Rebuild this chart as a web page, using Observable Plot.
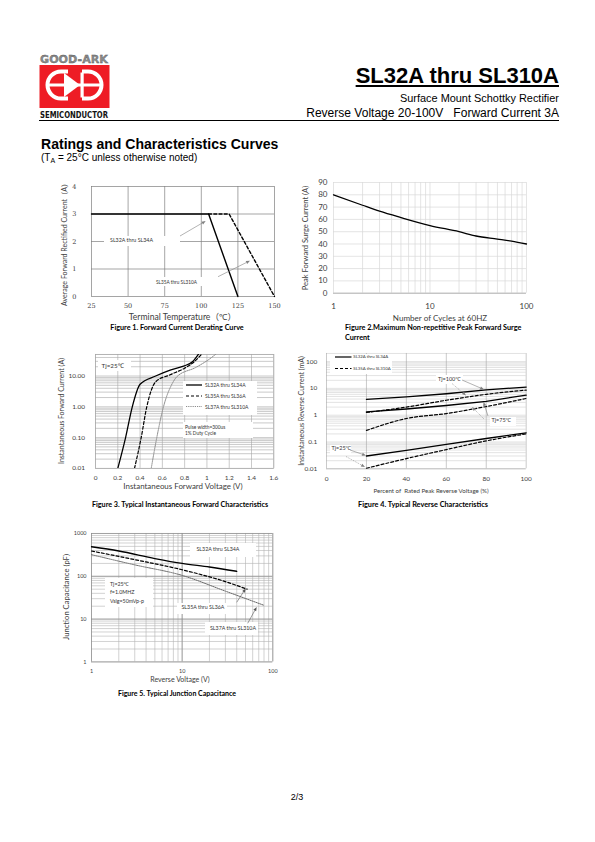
<!DOCTYPE html>
<html><head><meta charset="utf-8">
<script src="https://cdn.jsdelivr.net/npm/d3@7"></script>
<script src="https://cdn.jsdelivr.net/npm/@observablehq/plot@0.6"></script>
<style>
html,body{margin:0;padding:0;background:#fff;}
#page{position:relative;width:595px;height:842px;overflow:hidden;background:#fff;}
.t{position:absolute;white-space:pre;line-height:1;}
.b{position:absolute;background:#fff;}
</style></head><body><div id="page"></div>
<script>
// ---------------- data ----------------
// Figure 1: Forward current derating
const f1TempA = [25, 105, 125];
const f1CurA  = [3, 3, 0];
const f1TempB = [105, 119, 150];
const f1CurB  = [3, 3, 0];
const f1XTicks = [25, 50, 75, 100, 125, 150];
const f1YTicks = [0, 1, 2, 3, 4];

// Figure 2: Peak forward surge current
const f2Cycles = [1, 2, 3, 5, 10, 20, 30, 50, 70, 100];
const f2Surge  = [80, 71.5, 66.7, 61.5, 55, 50, 46.5, 44, 42.3, 40];
const f2XTicks = [1, 10, 100];
const f2YTicks = [0, 10, 20, 30, 40, 50, 60, 70, 80, 90];

// Figure 3: Instantaneous forward characteristics
const f3VoltA = [0.2, 0.27, 0.33, 0.40, 0.54, 0.67, 0.79, 0.87, 0.93];
const f3CurA  = [0.01, 0.1, 1, 5.4, 10, 15.6, 21, 29, 55];
const f3VoltB = [0.35, 0.41, 0.46, 0.54, 0.67, 0.80, 0.89, 0.96];
const f3CurB  = [0.01, 0.1, 1, 6.5, 11, 18, 30, 55];
const f3VoltC = [0.50, 0.55, 0.61, 0.69, 0.73, 0.90, 1.02, 1.09];
const f3CurC  = [0.01, 0.1, 1, 5.8, 9.5, 19, 35, 55];
const f3XTicks = [0, 0.2, 0.4, 0.6, 0.8, 1, 1.2, 1.4, 1.6];
const f3YTicks = [0.01, 0.1, 1, 10];

// Figure 4: Reverse characteristics
const f4Pct = [20, 40, 60, 80, 100];
const f4A100 = [3.9, 4.8, 6.3, 8.8, 11.2];
const f4B100 = [1.26, 2.0, 3.6, 6.0, 8.6];
const f4A75  = [1.33, 1.7, 2.3, 3.3, 5.6];
const f4B75  = [0.27, 0.75, 1.15, 2.1, 4.2];
const f4A25  = [0.030, 0.049, 0.082, 0.135, 0.22];
const f4B25  = [0.0105, 0.024, 0.052, 0.11, 0.20];
const f4XTicks = [0, 20, 40, 60, 80, 100];
const f4YTicks = [0.01, 0.1, 1, 10, 100];

// Figure 5: Junction capacitance
const f5VoltA = [1, 2, 5, 10, 20, 40];
const f5CapA  = [490, 390, 260, 200, 165, 131];
const f5VoltB = [1, 3, 10, 30, 52];
const f5CapB  = [390, 245, 142, 75, 50];
const f5VoltC = [1, 3, 10, 30, 80];
const f5CapC  = [320, 185, 105, 45, 21];
const f5XTicks = [1, 10, 100];
const f5YTicks = [1, 10, 100, 1000];

// ---------------- helpers ----------------
const page = document.getElementById("page");
const FONT = "Lato, 'Noto Sans', 'Noto Sans CJK SC', sans-serif";
const ARIAL = "'Liberation Sans', Arial, sans-serif";

function logGrid(e0, e1, max) {
  const out = [];
  for (let e = e0; e <= e1; e++) for (let k = 1; k <= 9; k++) {
    const v = +(k * Math.pow(10, e)).toPrecision(6);
    if (v <= max) out.push(v);
  }
  return out;
}

function makePlot(fr, fs, opts) {
  const ml = 45, mr = 12, mt = 8, mb = 22;
  const w = fr.x1 - fr.x0 + ml + mr, h = fr.y1 - fr.y0 + mt + mb;
  const svg = Plot.plot({
    width: w, height: h, marginLeft: ml, marginRight: mr, marginTop: mt, marginBottom: mb,
    style: {background: "transparent", fontFamily: FONT, fontSize: fs + "px", color: "#404040", overflow: "visible"},
    ...opts
  });
  Object.assign(svg.style, {position: "absolute", left: (fr.x0 - ml) + "px", top: (fr.y0 - mt) + "px", maxWidth: "none"});
  page.appendChild(svg);
}

function T(s, x, y, o = {}) {
  const d = document.createElement("div");
  d.className = "t";
  if (o.html) d.innerHTML = s; else d.textContent = s;
  d.style.left = x + "px"; d.style.top = y + "px";
  d.style.fontSize = (o.size || 7) + "px";
  d.style.fontFamily = o.font || FONT;
  d.style.fontWeight = o.bold ? "bold" : "normal";
  d.style.color = o.color || "#000";
  if (o.deco) d.style.cssText += o.deco;
  const ax = o.anchor === "middle" || o.rotate ? "-50%" : o.anchor === "end" ? "-100%" : "0";
  d.style.transform = `translate(${ax},-50%)` + (o.rotate ? " rotate(-90deg)" : "");
  page.appendChild(d);
  if (o.width) {
    const cur = d.offsetWidth;
    if (cur > 0) d.style.fontSize = ((o.size || 7) * o.width / cur) + "px";
  }
  return d;
}
function B(x, y, w, h) {
  const d = document.createElement("div");
  d.className = "b";
  Object.assign(d.style, {left: x + "px", top: y + "px", width: w + "px", height: h + "px"});
  page.appendChild(d);
}

// ---------------- Figure 1 ----------------
const F1 = {x0: 91, x1: 274, y0: 186, y1: 296};
makePlot(F1, 6.5, {
  x: {domain: [25, 150]}, y: {domain: [0, 4]},
  marks: [
    Plot.ruleX(f1XTicks.slice(1, -1), {stroke: "#7f7f7f", strokeWidth: 0.7}),
    Plot.ruleY(f1YTicks.slice(1, -1), {stroke: "#7f7f7f", strokeWidth: 0.7}),
    Plot.frame({stroke: "#7f7f7f", strokeWidth: 0.7}),
    Plot.line(f1TempA, {x: f1TempA, y: f1CurA, stroke: "#000", strokeWidth: 1.4}),
    Plot.line(f1TempB, {x: f1TempB, y: f1CurB, stroke: "#000", strokeWidth: 1.4, strokeDasharray: "3,2.2"}),
    Plot.axisX({ticks: f1XTicks, tickSize: 0, tickPadding: 6.5, fontSize: 6.5, fontFamily: "'DejaVu Serif', serif", label: null, tickFormat: d => String(d)}),
    Plot.axisY({ticks: f1YTicks, tickSize: 0, tickPadding: 15, fontSize: 6.5, fontFamily: "'DejaVu Serif', serif", label: null, tickFormat: d => String(d)})
  ]
});

// ---------------- Figure 2 ----------------
const F2 = {x0: 333, x1: 526, y0: 182.3, y1: 293};
makePlot(F2, 8, {
  x: {type: "log", domain: [1, 100]}, y: {domain: [0, 90]},
  marks: [
    Plot.ruleX(logGrid(0, 2, 100), {stroke: "#d9d9d9", strokeWidth: 0.7}),
    Plot.ruleY(f2YTicks, {stroke: "#d9d9d9", strokeWidth: 0.7}),
    Plot.ruleY([0], {stroke: "#a6a6a6", strokeWidth: 0.8}),
    Plot.line(f2Cycles, {x: f2Cycles, y: f2Surge, curve: "monotone-x", stroke: "#000", strokeWidth: 1.3}),
    Plot.axisX({ticks: f2XTicks, tickSize: 0, tickPadding: 10, fontSize: 8, label: null, tickFormat: d => String(d)}),
    Plot.axisY({ticks: f2YTicks, tickSize: 0, tickPadding: 6, fontSize: 8, label: null, tickFormat: d => String(d)})
  ]
});

// ---------------- Figure 3 ----------------
const F3 = {x0: 95, x1: 273.3, y0: 354.4, y1: 468.3};
makePlot(F3, 6.5, {
  x: {domain: [0, 1.6]}, y: {type: "log", domain: [0.01, 50]},
  marks: [
    Plot.ruleY(logGrid(-2, 1, 50), {stroke: "#a6a6a6", strokeWidth: 0.6}),
    Plot.ruleX(f3XTicks, {stroke: "#a6a6a6", strokeWidth: 0.6}),
    Plot.frame({stroke: "#a6a6a6", strokeWidth: 0.6}),
    Plot.line(f3VoltC, {x: f3VoltC, y: f3CurC, curve: "monotone-x", stroke: "#8c8c8c", strokeWidth: 1, strokeDasharray: "1.2,1", clip: true}),
    Plot.line(f3VoltB, {x: f3VoltB, y: f3CurB, curve: "monotone-x", stroke: "#000", strokeWidth: 1.2, strokeDasharray: "3,2", clip: true}),
    Plot.line(f3VoltA, {x: f3VoltA, y: f3CurA, curve: "monotone-x", stroke: "#000", strokeWidth: 1.3, clip: true}),
    Plot.axisX({ticks: f3XTicks, tickSize: 0, tickPadding: 7, fontSize: 6.5, label: null, tickFormat: d => String(d)}),
    Plot.axisY({ticks: f3YTicks, tickSize: 0, tickPadding: 10.5, fontSize: 6.5, label: null, tickFormat: d3.format(".2f")})
  ]
});

// ---------------- Figure 4 ----------------
const F4 = {x0: 326, x1: 525.7, y0: 353, y1: 468.3};
makePlot(F4, 6.5, {
  x: {domain: [0, 100]}, y: {type: "log", domain: [0.01, 200]},
  marks: [
    Plot.ruleY(logGrid(-2, 2, 200), {stroke: "#d0d0d0", strokeWidth: 0.6}),
    Plot.ruleX(f4XTicks, {stroke: "#a6a6a6", strokeWidth: 0.6}),
    Plot.ruleY([0.01], {stroke: "#a6a6a6", strokeWidth: 0.6}),
    Plot.line(f4Pct, {x: f4Pct, y: f4A100, stroke: "#000", strokeWidth: 1.3}),
    Plot.line(f4Pct, {x: f4Pct, y: f4A75, stroke: "#000", strokeWidth: 1.3}),
    Plot.line(f4Pct, {x: f4Pct, y: f4A25, stroke: "#000", strokeWidth: 1.3}),
    Plot.line(f4Pct, {x: f4Pct, y: f4B100, curve: "monotone-x", stroke: "#000", strokeWidth: 1.2, strokeDasharray: "3,2"}),
    Plot.line(f4Pct, {x: f4Pct, y: f4B75, curve: "monotone-x", stroke: "#000", strokeWidth: 1.2, strokeDasharray: "3,2"}),
    Plot.line(f4Pct, {x: f4Pct, y: f4B25, curve: "monotone-x", stroke: "#000", strokeWidth: 1.2, strokeDasharray: "3,2"}),
    Plot.axisX({ticks: f4XTicks, tickSize: 0, tickPadding: 7.5, fontSize: 6.5, label: null, tickFormat: d => String(d)}),
    Plot.axisY({ticks: f4YTicks, tickSize: 0, tickPadding: 9.3, fontSize: 6.5, label: null, tickFormat: d => String(d)})
  ]
});

// ---------------- Figure 5 ----------------
const F5 = {x0: 91, x1: 272.3, y0: 533.3, y1: 661.7};
makePlot(F5, 5.5, {
  x: {type: "log", domain: [1, 100]}, y: {type: "log", domain: [1, 1000]},
  marks: [
    Plot.ruleX(logGrid(0, 2, 100), {stroke: "#b3b3b3", strokeWidth: 0.6}),
    Plot.ruleY(logGrid(0, 3, 1000), {stroke: "#b3b3b3", strokeWidth: 0.6}),
    Plot.ruleX(f5XTicks, {stroke: "#8c8c8c", strokeWidth: 0.7}),
    Plot.ruleY(f5YTicks, {stroke: "#8c8c8c", strokeWidth: 0.7}),
    Plot.line(f5VoltC, {x: f5VoltC, y: f5CapC, curve: "monotone-x", stroke: "#666", strokeWidth: 1, strokeDasharray: "1.2,1"}),
    Plot.line(f5VoltB, {x: f5VoltB, y: f5CapB, curve: "monotone-x", stroke: "#000", strokeWidth: 1.2, strokeDasharray: "3,2"}),
    Plot.line(f5VoltA, {x: f5VoltA, y: f5CapA, curve: "monotone-x", stroke: "#000", strokeWidth: 1.3}),
    Plot.axisX({ticks: f5XTicks, tickSize: 0, tickPadding: 7, fontSize: 5.5, label: null, tickFormat: d => String(d)}),
    Plot.axisY({ticks: f5YTicks, tickSize: 0, tickPadding: 5, fontSize: 5.5, label: null, tickFormat: d => String(d)})
  ]
});

// ---------------- annotation boxes & texts ----------------
const G = "#404040";
// header
T("SL32A thru SL310A", 559, 75.5, {size: 22, bold: true, font: ARIAL, anchor: "end", width: 203, deco: "text-decoration:underline;text-decoration-thickness:1.6px;text-underline-offset:2px;"});
T("Surface Mount Schottky Rectifier", 559, 97.5, {size: 11, font: ARIAL, anchor: "end", width: 159});
T("Reverse Voltage 20-100V   Forward Current 3A", 559, 112.5, {size: 11, font: ARIAL, anchor: "end", width: 253});
const rule = document.createElement("div");
Object.assign(rule.style, {position: "absolute", left: "39px", top: "119.5px", width: "520px", height: "1px", background: "#000"});
page.appendChild(rule);
T("Ratings and Characteristics Curves", 41, 143.5, {size: 14, bold: true, font: ARIAL, width: 238});
T("(T<sub style='font-size:70%;vertical-align:-2px'>A</sub> = 25°C unless otherwise noted)", 41, 158.5, {size: 9.5, font: ARIAL, html: true, width: 156});
T("2/3", 297, 797, {size: 9, font: ARIAL, anchor: "middle"});

// Figure 1 texts
T("Average Forward Rectified Current（A）", 65, 243, {size: 7, color: G, rotate: true, width: 126});
T("Terminal Temperature（℃）", 182.5, 317, {size: 7.5, color: G, anchor: "middle", width: 108});
B(104, 236, 76, 10); T("SL32A thru SL34A", 110, 240.5, {size: 5.2, color: "#333", width: 43});
B(152, 276.5, 50, 9.5); T("SL35A thru SL310A", 156, 281.5, {size: 5.2, color: "#333", width: 41});
T("Figure 1. Forward Current Derating Curve", 177, 328, {size: 6.3, bold: true, anchor: "middle", width: 133});

// Figure 2 texts
T("Peak Forward Surge Current (A)", 306, 238, {size: 7.5, color: G, rotate: true, width: 105});
T("Number of Cycles at 60HZ", 440, 317.5, {size: 8, color: G, anchor: "middle", width: 94});
const cap2 = T("Figure 2.Maximum Non-repetitive Peak Forward Surge", 345, 328, {size: 6.3, bold: true, width: 177});
T("Current", 345, 337.5, {size: parseFloat(cap2.style.fontSize), bold: true});

// Figure 3 texts
T("Instantaneous Forward Current (A)", 61, 411, {size: 7, color: G, rotate: true, width: 106});
T("Instantaneous Forward Voltage (V)", 183, 487, {size: 7.2, color: G, anchor: "middle", width: 119});
B(98, 360, 33, 11); T("Tj=25℃", 101.5, 365.5, {size: 6.3, color: "#333"});
B(183, 381, 74, 34);
B(183, 421.5, 70, 16);
T("SL32A thru SL34A", 205, 385, {size: 5, color: "#333"});
T("SL35A thru SL36A", 205, 396, {size: 5, color: "#333"});
T("SL37A thru SL310A", 205, 406.5, {size: 5, color: "#333"});
T("Pulse width=300us", 185, 426.5, {size: 4.8, color: "#333"});
T("1% Duty Cycle", 185, 433, {size: 4.8, color: "#333"});
T("Figure 3. Typical Instantaneous Forward Characteristics", 180, 505, {size: 6.3, bold: true, anchor: "middle", width: 176});

// Figure 4 texts
T("Instantaneous Reverse Current (mA)", 301, 411, {size: 6.5, color: G, rotate: true, width: 110});
T("Percent of  Rated Peak Reverse Voltage (%)", 431, 491, {size: 6, color: G, anchor: "middle", width: 116});
B(330, 354, 62, 19.5);
T("SL32A thru SL34A", 353.3, 357, {size: 4.3, color: "#333"});
T("SL35A thru SL310A", 353.3, 368.5, {size: 4.3, color: "#333"});
B(436, 375, 27, 9); T("Tj=100℃", 438, 379.5, {size: 5.5, color: "#333"});
B(489.5, 416.5, 26, 9); T("Tj=75℃", 491.5, 421, {size: 5.5, color: "#333"});
B(329.5, 444.5, 21, 9); T("Tj=25℃", 331.5, 449, {size: 5.5, color: "#333"});
T("Figure 4. Typical Reverse Characteristics", 423, 505, {size: 6.3, bold: true, anchor: "middle", width: 130});

// Figure 5 texts
T("Junction Capacitance (pF)", 66.7, 597, {size: 6.5, color: G, rotate: true, width: 86});
T("Reverse Voltage (V)", 180, 680, {size: 6.8, color: G, anchor: "middle", width: 60});
B(190, 543, 66, 14); T("SL32A thru SL34A", 196.5, 550, {size: 5.3, color: "#333"});
B(105, 578, 48, 29);
T("Tj=25℃", 110, 585, {size: 5.3, color: "#333"});
T("f=1.0MHZ", 110, 593.3, {size: 5.3, color: "#333"});
T("Vsig=50mVp-p", 110, 601.7, {size: 5.3, color: "#333"});
B(177, 602.5, 50, 11.5); T("SL35A thru SL36A", 181.5, 608.3, {size: 5.3, color: "#333"});
B(205, 622, 53, 13); T("SL37A thru SL310A", 210, 629.3, {size: 5.3, color: "#333"});
T("Figure 5. Typical Junction Capacitance", 177, 694, {size: 6.3, bold: true, anchor: "middle", width: 118});

// ---------------- overlay: logo, legend samples, arrows ----------------
function arrow(x1, y1, x2, y2, color = "#7f7f7f", dash = "") {
  const a = Math.atan2(y2 - y1, x2 - x1), L = 4, Wd = 1.6;
  const bx = x2 - L * Math.cos(a), by = y2 - L * Math.sin(a);
  const p1 = [bx + Wd * Math.sin(a), by - Wd * Math.cos(a)], p2 = [bx - Wd * Math.sin(a), by + Wd * Math.cos(a)];
  return `<line x1="${x1}" y1="${y1}" x2="${bx}" y2="${by}" stroke="${color}" stroke-width="0.6" ${dash ? `stroke-dasharray="${dash}"` : ""}/>` +
    `<polygon points="${x2},${y2} ${p1.join(",")} ${p2.join(",")}" fill="${color}"/>`;
}
let ov = `<svg xmlns="http://www.w3.org/2000/svg" width="595" height="842" style="position:absolute;left:0;top:0;overflow:visible">`;
// logo
ov += `<text x="40" y="62.5" font-family="'DejaVu Sans',sans-serif" font-weight="bold" font-size="11" fill="#8a8a8a" stroke="#555" stroke-width="0.3" textLength="68" lengthAdjust="spacingAndGlyphs">GOOD-ARK</text>`;
ov += `<rect x="39.5" y="65" width="70" height="43" fill="#ee1c25"/>`;
ov += `<g fill="none" stroke="#fff" stroke-width="4">
  <path d="M68,71.5 H61 A13.5,13.5 0 0 0 61,98.5 H68"/>
  <path d="M82,71.5 H88 A13.5,13.5 0 0 1 88,98.5 H82"/>
</g>
<line x1="46" y1="85" x2="103" y2="85" stroke="#fff" stroke-width="3"/>
<polygon points="64,73 64,97 80,85" fill="#fff"/>
<rect x="80.5" y="72.5" width="3.2" height="25" fill="#fff"/>`;
ov += `<text x="40" y="117.5" font-family="'DejaVu Sans',sans-serif" font-weight="bold" font-size="9" fill="#111" textLength="68" lengthAdjust="spacingAndGlyphs">SEMICONDUCTOR</text>`;
// fig 3 legend samples
ov += `<line x1="186" y1="385" x2="202" y2="385" stroke="#000" stroke-width="1.3"/>`;
ov += `<line x1="186" y1="396" x2="202" y2="396" stroke="#000" stroke-width="1.2" stroke-dasharray="3,2"/>`;
ov += `<line x1="186" y1="406.5" x2="202" y2="406.5" stroke="#8c8c8c" stroke-width="1" stroke-dasharray="1.2,1"/>`;
// fig 4 legend samples
ov += `<line x1="335" y1="357" x2="351.5" y2="357" stroke="#000" stroke-width="1.2"/>`;
ov += `<line x1="335" y1="368.5" x2="351.5" y2="368.5" stroke="#000" stroke-width="1.1" stroke-dasharray="3,2"/>`;
// fig 1 arrows
ov += arrow(180, 236, 205.7, 221);
ov += arrow(218, 276.7, 250, 260.7);
// fig 4 arrows
ov += arrow(462, 380, 484, 389.5);
ov += arrow(452, 383.5, 466, 395.5, "#7f7f7f", "1,1");
ov += arrow(488, 416, 483.5, 402);
ov += arrow(484, 419, 472, 407, "#7f7f7f", "1,1");
ov += arrow(350, 450, 366, 455.5);
ov += arrow(346, 456.5, 365, 467, "#7f7f7f", "1,1");
// fig 5 arrows
ov += arrow(236.7, 602.3, 245.7, 588.5, "#555");
ov += arrow(247.7, 623.3, 256.7, 607, "#555");
ov += `</svg>`;
page.insertAdjacentHTML("beforeend", ov);
</script>
</body></html>
